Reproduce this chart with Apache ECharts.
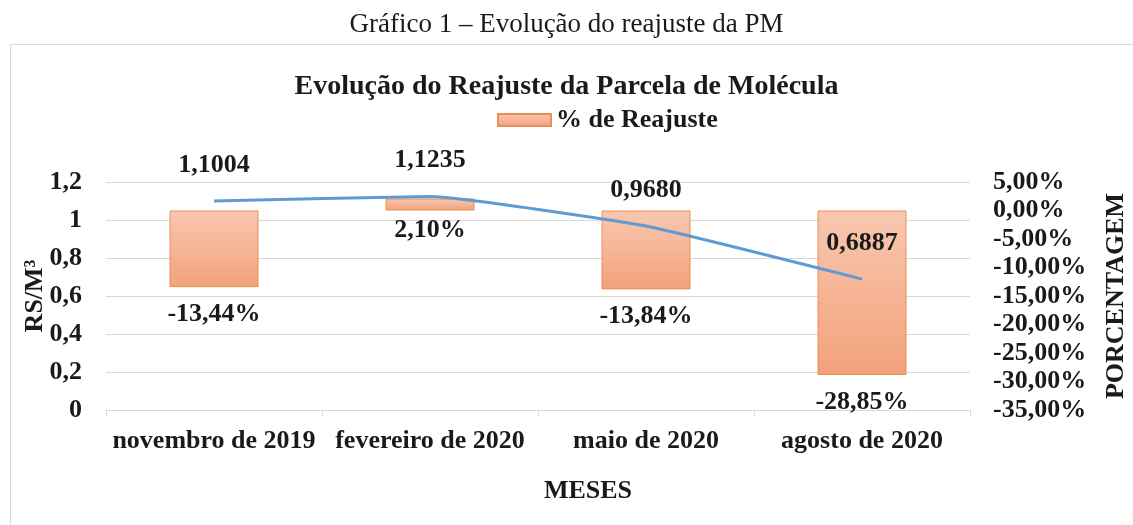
<!DOCTYPE html>
<html>
<head>
<meta charset="utf-8">
<title>Gráfico 1 – Evolução do reajuste da PM</title>
<script src="https://cdn.jsdelivr.net/npm/echarts@6/dist/echarts.min.js"></script>
<style>
  html, body { margin: 0; padding: 0; background: #fff; }
  #chart { width: 1133px; height: 525px; }
</style>
</head>
<body>
<div id="chart"></div>
<script>
// dados
var meses = ['novembro de 2019', 'fevereiro de 2020', 'maio de 2020', 'agosto de 2020'];
var precoM3 = [1.1004, 1.1235, 0.9680, 0.6887];      // R$/M³ (linha, eixo esquerdo)
var reajuste = [-13.44, 2.10, -13.84, -28.85];      // % de reajuste (barras, eixo direito)
var ticksEsq = ['0', '0,2', '0,4', '0,6', '0,8', '1', '1,2'];
var ticksDir = ['-35,00%', '-30,00%', '-25,00%', '-20,00%', '-15,00%', '-10,00%', '-5,00%', '0,00%', '5,00%'];

var fonte = "'Liberation Serif', 'Times New Roman', serif";
var corTexto = '#1a1a1a';
var corGrade = '#d9d9d9';

var myChart = echarts.init(document.getElementById('chart'));
myChart.setOption({
    textStyle: { fontFamily: fonte, color: corTexto },
    graphic: [{
        type: 'rect',
        left: 8, top: 42, z: -10,
        shape: { width: 1200, height: 600 },
        style: { fill: 'none', stroke: corGrade, lineWidth: 1 }
    }],
    title: [{
        text: 'Gráfico 1 – Evolução do reajuste da PM',
        left: 'center', top: 11,
        padding: 0,
        textStyle: { fontFamily: fonte, fontSize: 27, fontWeight: 'normal', color: corTexto }
    }, {
        text: 'Evolução do Reajuste da Parcela de Molécula',
        left: 'center', top: 73,
        padding: [0, 8, 0, 0],
        textStyle: { fontFamily: fonte, fontSize: 28, fontWeight: 'bold', color: corTexto }
    }],
    legend: {
        data: ['% de Reajuste'],
        left: 497, top: 107,
        padding: 0,
        icon: 'rect',
        itemWidth: 53, itemHeight: 12,
        textStyle: { fontFamily: fonte, fontSize: 26, fontWeight: 'bold', color: corTexto }
    },
    grid: { left: 106, right: 163, top: 182, bottom: 115, outerBoundsMode: 'none' },
    xAxis: {
        type: 'category',
        data: meses,
        name: 'MESES',
        nameLocation: 'middle',
        nameGap: 68,
        nameTextStyle: { fontFamily: fonte, fontSize: 26, fontWeight: 'bold', color: corTexto, padding: [0, 0, 0, 100] },
        axisLine: { lineStyle: { color: corGrade } },
        axisTick: { show: true, length: 6, lineStyle: { color: corGrade } },
        axisLabel: { margin: 18, fontFamily: fonte, fontSize: 26, fontWeight: 'bold', color: corTexto, interval: 0 }
    },
    yAxis: [{
        type: 'value',
        min: 0, max: 1.2, interval: 0.2,
        name: 'RS/M³',
        nameLocation: 'middle',
        nameGap: 58,
        nameRotate: 90,
        nameMoveOverlap: false,
        nameTextStyle: { fontFamily: fonte, fontSize: 26, fontWeight: 'bold', color: corTexto },
        axisLine: { show: false },
        axisTick: { show: false },
        splitLine: { lineStyle: { color: corGrade } },
        axisLabel: {
            margin: 24, fontFamily: fonte, fontSize: 26, fontWeight: 'bold', color: corTexto,
            formatter: function (v, i) { return ticksEsq[i]; }
        }
    }, {
        type: 'value',
        min: -35, max: 5, interval: 5,
        name: 'PORCENTAGEM',
        nameLocation: 'middle',
        nameGap: 133,
        nameRotate: 90,
        nameMoveOverlap: false,
        nameTextStyle: { fontFamily: fonte, fontSize: 26, fontWeight: 'bold', color: corTexto },
        position: 'right',
        axisLine: { show: false },
        axisTick: { show: false },
        splitLine: { show: false },
        axisLabel: {
            margin: 23, fontFamily: fonte, fontSize: 26, fontWeight: 'bold', color: corTexto,
            formatter: function (v, i) { return ticksDir[i]; }
        }
    }],
    series: [{
        name: '% de Reajuste',
        type: 'bar',
        yAxisIndex: 1,
        barWidth: 89,
        itemStyle: {
            color: new echarts.graphic.LinearGradient(0, 0, 0, 1, [
                { offset: 0, color: '#f8c8b0' },
                { offset: 1, color: '#f3a17b' }
            ]),
            borderColor: '#e98e57',
            borderWidth: 1
        },
        label: {
            show: true,
            position: 'bottom',
            fontFamily: fonte, fontSize: 26, fontWeight: 'bold', color: corTexto,
            formatter: function (p) { return p.value.toFixed(2).replace('.', ',') + '%'; }
        },
        data: reajuste.map(function (v) {
            return { value: v, label: { distance: v < 0 ? 14 : 7 } };
        })
    }, {
        name: 'R$/M³',
        type: 'line',
        yAxisIndex: 0,
        smooth: 0.12,
        symbol: 'circle',
        symbolSize: 2,
        showSymbol: true,
        z: 5,
        lineStyle: { color: '#5f9bd3', width: 3 },
        itemStyle: { color: 'rgba(0,0,0,0)' },
        label: {
            show: true,
            position: 'top',
            distance: 22,
            fontFamily: fonte, fontSize: 26, fontWeight: 'bold', color: corTexto,
            formatter: function (p) { return p.value.toFixed(4).replace('.', ','); }
        },
        data: precoM3
    }]
});
</script>
</body>
</html>
